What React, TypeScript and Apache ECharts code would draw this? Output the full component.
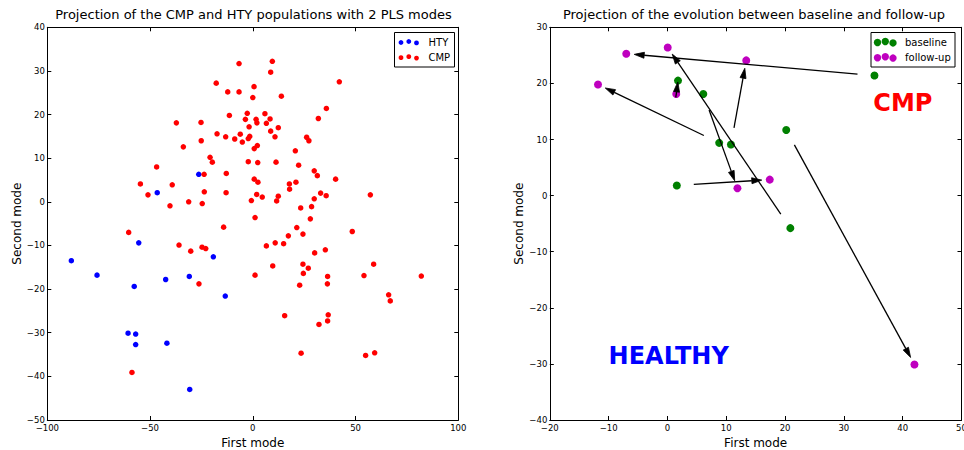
import React, { useEffect, useRef } from "react";
import * as echarts from "echarts";

// ---------- data ----------
const htyPoints: number[][] = [
  [-88.3, -13.5], [-75.8, -16.8], [-55.5, -9.4], [-57.7, -19.4], [-46.5, 2.1],
  [-42.4, -17.8], [-30.9, -17.1], [-26.3, 6.3], [-19.2, -12.6], [-13.4, -21.6],
  [-60.7, -30.1], [-57.0, -30.3], [-57.0, -32.7], [-41.8, -32.4], [-30.7, -43.0],
];

const cmpPoints: number[][] = [
  [-6.7, 31.7], [-17.8, 27.2], [-12.2, 25.2], [-6.7, 25.2], [-11.4, 19.8], [-2.7, 20.3], [-3.6, 18.9], [-1.8, 17.2], [-37.2, 18.1], [-25.2, 18.2],
  [-17.4, 15.6], [-13.2, 14.9], [-6.1, 15.5], [-8.8, 14.4], [-5.1, 13.7], [-2.2, 14.5], [-1.5, 15.0], [-25.1, 14.0], [-33.8, 12.6], [-20.8, 10.2],
  [-19.7, 9.1], [-2.2, 9.2], [-46.8, 8.0], [-23.7, 6.3], [-12.9, 6.5], [-54.7, 4.1], [-39.2, 3.9], [-51.0, 1.6], [-23.6, 2.3], [-13.0, 2.1],
  [-40.3, -0.9], [-31.2, 0.0], [-24.6, -0.4], [-0.7, 0.3], [9.5, 32.2], [8.7, 29.7], [42.1, 27.5], [0.6, 26.4], [0.0, 23.9], [13.9, 24.2],
  [35.8, 21.4], [31.9, 19.1], [5.9, 20.2], [1.6, 18.9], [2.0, 18.1], [6.6, 18.0], [8.4, 19.0], [12.4, 17.0], [8.7, 16.2], [10.8, 14.9],
  [26.2, 14.8], [27.3, 14.0], [0.7, 12.2], [2.2, 12.9], [20.7, 11.7], [22.3, 8.4], [2.4, 9.0], [11.3, 9.1], [29.9, 7.1], [31.4, 6.0],
  [40.3, 5.2], [0.7, 5.2], [2.5, 4.5], [17.8, 4.1], [21.0, 4.5], [17.9, 2.9], [33.0, 2.0], [35.7, 1.4], [57.2, 1.6], [1.9, 1.7],
  [4.6, 1.1], [12.4, 1.3], [11.6, 0.2], [29.9, 0.7], [23.3, -1.4], [28.6, -1.1], [1.1, -3.6], [28.0, -3.9], [21.4, -5.9], [24.4, -7.4],
  [17.3, -7.8], [48.4, -6.8], [10.9, -9.4], [15.0, -9.6], [6.6, -10.1], [30.1, -11.7], [35.3, -11.0], [24.4, -14.3], [27.0, -15.2], [9.7, -14.7],
  [24.6, -16.4], [1.1, -16.8], [36.4, -17.1], [54.1, -16.9], [58.8, -14.3], [82.0, -17.0], [22.8, -19.1], [36.3, -18.8], [66.1, -21.3], [66.9, -22.7],
  [15.5, -26.1], [36.7, -25.9], [36.4, -27.3], [32.2, -28.1], [23.5, -34.7], [54.9, -35.2], [59.3, -34.6], [-60.4, -7.0], [-35.9, -9.9], [-30.2, -11.3],
  [-24.7, -10.4], [-22.9, -10.7], [-14.2, -5.8], [-26.2, -18.8], [-58.8, -39.1],
];

const baseline: number[][] = [
  [35.2, 21.4], [1.8, 20.5], [6.1, 18.1], [8.8, 9.4], [10.8, 9.1], [1.6, 1.8], [20.2, 11.7], [20.9, -5.8],
];
const followUp: number[][] = [
  [-7.0, 25.3], [1.5, 18.1], [11.9, 1.3], [-11.8, 19.8], [13.4, 24.1], [17.4, 2.85], [42.0, -30.1], [0.05, 26.4],
];

const classLabels = [
  { text: "CMP", x: 35, y: 15, color: "#ff0000" },
  { text: "HEALTHY", x: -10, y: -30, color: "#0000ff" },
];

const leftTitle = "Projection of the CMP and HTY populations with 2 PLS modes";
const rightTitle = "Projection of the evolution between baseline and follow-up";
const xName = "First mode";
const yName = "Second mode";
const leftLegend = ["HTY", "CMP"];
const rightLegend = ["baseline", "follow-up"];

// ---------- styling ----------
const FONT = "DejaVu Sans";
const RED = "#ff0000";
const BLUE = "#0000ff";
const GREEN = "#008000";
const MAGENTA = "#bf00bf";

const fmt = (v: number) => (v < 0 ? "\u2212" + Math.abs(v) : String(v));

function mkAxis(
  kind: "x" | "y",
  gridIndex: number,
  min: number,
  max: number,
  interval: number,
  position: string,
  main: boolean,
  nameGap: number
) {
  return {
    type: "value",
    gridIndex,
    min,
    max,
    interval,
    position,
    name: main ? (kind === "x" ? xName : yName) : "",
    nameLocation: "middle",
    nameGap,
    nameTextStyle: { fontFamily: FONT, fontSize: 12, color: "#000" },
    axisLine: { show: true, onZero: false, lineStyle: { color: "#000", width: 1 } },
    axisTick: { show: true, inside: true, length: 4, lineStyle: { color: "#000", width: 1 } },
    axisLabel: {
      show: main,
      fontFamily: FONT,
      fontSize: 8.5,
      color: "#000",
      margin: kind === "x" ? 3.5 : 2.5,
      hideOverlap: false,
      formatter: fmt,
    },
    splitLine: { show: false },
  };
}

function legendBox(x: number, y: number, w: number, h: number, items: string[], colors: string[], r: number) {
  const els: any[] = [
    {
      type: "rect",
      shape: { x, y, width: w, height: h },
      style: { fill: "#fff", stroke: "#000", lineWidth: 1 },
      z: 100,
    },
  ];
  const offs = [
    [6.5, 0.3],
    [14.3, -0.7],
    [22, 0.7],
  ];
  items.forEach((t, i) => {
    const cy = y + 9.7 + i * 15.2;
    offs.forEach(([dx, dy]) => {
      els.push({
        type: "circle",
        shape: { cx: x + dx, cy: cy + dy, r },
        style: { fill: colors[i] },
        z: 101,
      });
    });
    els.push({
      type: "text",
      x: x + 34,
      y: cy,
      style: { text: t, fontFamily: FONT, fontSize: 10, fill: "#000", textAlign: "left", textVerticalAlign: "middle" },
      z: 101,
    });
  });
  return els;
}

export default function App() {
  const ref = useRef<HTMLDivElement>(null);

  useEffect(() => {
    if (!ref.current) return;
    const chart = echarts.init(ref.current, undefined, { renderer: "svg" });

    const option: any = {
      animation: false,
      backgroundColor: "#fff",
      grid: [
        { left: 47.3, top: 27.3, width: 411, height: 392.7, containLabel: false, outerBoundsMode: "none" },
        { left: 549.8, top: 27.3, width: 411.7, height: 392.7, containLabel: false, outerBoundsMode: "none" },
      ],
      xAxis: [
        mkAxis("x", 0, -100, 100, 50, "bottom", true, 15.8),
        mkAxis("x", 0, -100, 100, 50, "top", false, 0),
        mkAxis("x", 1, -20, 50, 10, "bottom", true, 15.8),
        mkAxis("x", 1, -20, 50, 10, "top", false, 0),
      ],
      yAxis: [
        mkAxis("y", 0, -50, 40, 10, "left", true, 24),
        mkAxis("y", 0, -50, 40, 10, "right", false, 0),
        mkAxis("y", 1, -40, 30, 10, "left", true, 24.5),
        mkAxis("y", 1, -40, 30, 10, "right", false, 0),
      ],
      series: [
        {
          name: "HTY",
          type: "scatter",
          xAxisIndex: 0,
          yAxisIndex: 0,
          data: htyPoints,
          symbolSize: 5.5,
          itemStyle: { color: BLUE, opacity: 1 },
          z: 2,
        },
        {
          name: "CMP",
          type: "scatter",
          xAxisIndex: 0,
          yAxisIndex: 0,
          data: cmpPoints,
          symbolSize: 5.5,
          itemStyle: { color: RED, opacity: 1 },
          z: 3,
        },
        {
          name: "baseline",
          type: "scatter",
          xAxisIndex: 2,
          yAxisIndex: 2,
          data: baseline,
          symbolSize: 8,
          itemStyle: { color: GREEN, opacity: 1 },
          z: 2,
        },
        {
          name: "follow-up",
          type: "scatter",
          xAxisIndex: 2,
          yAxisIndex: 2,
          data: followUp,
          symbolSize: 8,
          itemStyle: { color: MAGENTA, opacity: 1 },
          z: 3,
        },
        {
          name: "arrows",
          type: "custom",
          coordinateSystem: "cartesian2d",
          xAxisIndex: 2,
          yAxisIndex: 2,
          z: 5,
          encode: { x: [0, 2], y: [1, 3] },
          data: baseline.map((b, i) => [b[0], b[1], followUp[i][0], followUp[i][1]]),
          renderItem: (params: any, api: any) => {
            const p0 = api.coord([api.value(0), api.value(1)]);
            const p1 = api.coord([api.value(2), api.value(3)]);
            const dx = p1[0] - p0[0];
            const dy = p1[1] - p0[1];
            const d = Math.hypot(dx, dy);
            const ux = dx / d;
            const uy = dy / d;
            const tail = [p0[0] + 17 * ux, p0[1] + 17 * uy];
            const hd = d > 27 ? d - 8 : 0.1 * d;
            const head = [p0[0] + hd * ux, p0[1] + hd * uy];
            let vx = head[0] - tail[0];
            let vy = head[1] - tail[1];
            const L = Math.hypot(vx, vy);
            vx /= L;
            vy /= L;
            const hl = 10;
            const hw = 3;
            const base = [head[0] - hl * vx, head[1] - hl * vy];
            const nx = -vy;
            const ny = vx;
            return {
              type: "group",
              children: [
                {
                  type: "line",
                  shape: { x1: tail[0], y1: tail[1], x2: base[0], y2: base[1] },
                  style: { stroke: "#000", lineWidth: 1.3 },
                },
                {
                  type: "polygon",
                  shape: {
                    points: [
                      head,
                      [base[0] + hw * nx, base[1] + hw * ny],
                      [base[0] - hw * nx, base[1] - hw * ny],
                    ],
                  },
                  style: { fill: "#000", stroke: "#000", lineWidth: 0.8 },
                },
              ],
            };
          },
        },
      ],
    };

    chart.setOption(option);

    const graphics: any[] = [
      {
        type: "text",
        x: 253.5,
        y: 14.5,
        style: { text: leftTitle, fontFamily: FONT, fontSize: 13, fill: "#000", textAlign: "center", textVerticalAlign: "middle" },
      },
      {
        type: "text",
        x: 754,
        y: 14.5,
        style: { text: rightTitle, fontFamily: FONT, fontSize: 13, fill: "#000", textAlign: "center", textVerticalAlign: "middle" },
      },
      ...legendBox(394.5, 32.5, 60, 34.5, leftLegend, [BLUE, RED], 2.4),
      ...legendBox(871, 32.5, 84, 34.5, rightLegend, [GREEN, MAGENTA], 3.7),
    ];
    classLabels.forEach((c) => {
      const p = chart.convertToPixel({ xAxisIndex: 2, yAxisIndex: 2 } as any, [c.x, c.y]) as number[];
      graphics.push({
        type: "text",
        x: p[0],
        y: p[1] - 0.346 * 24,
        style: {
          text: c.text,
          fontFamily: FONT,
          fontSize: 24,
          fontWeight: "bold",
          fill: c.color,
          textAlign: "left",
          textVerticalAlign: "middle",
        },
        z: 50,
      });
    });
    chart.setOption({ graphic: graphics });

    return () => chart.dispose();
  }, []);

  return (
    <div
      ref={ref}
      style={{ position: "fixed", left: 0, top: 0, width: 964, height: 450, background: "#fff" }}
    />
  );
}
